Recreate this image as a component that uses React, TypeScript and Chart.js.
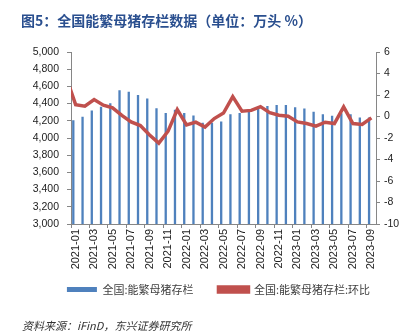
import React, { useEffect, useRef } from 'react';
import { Chart, registerables } from 'chart.js';

Chart.register(...registerables);

const categories = [
  '2021-01', '2021-02', '2021-03', '2021-04', '2021-05', '2021-06', '2021-07', '2021-08', '2021-09', '2021-10', '2021-11', '2021-12',
  '2022-01', '2022-02', '2022-03', '2022-04', '2022-05', '2022-06', '2022-07', '2022-08', '2022-09', '2022-10', '2022-11', '2022-12',
  '2023-01', '2023-02', '2023-03', '2023-04', '2023-05', '2023-06', '2023-07', '2023-08', '2023-09',
];

// 全国:能繁母猪存栏 (万头)
const sowStock = [
  4205, 4246, 4319, 4362, 4404, 4554, 4538, 4500, 4458, 4346, 4292, 4329,
  4290, 4262, 4178, 4177, 4192, 4277, 4292, 4315, 4350, 4373, 4385, 4385,
  4358, 4342, 4304, 4277, 4258, 4288, 4277, 4238, 4238,
];

// 全国:能繁母猪存栏:环比 (%)
const sowStockMoM = [
  1.1, 0.96, 1.58, 1.05, 0.8, 0.1, -0.5, -0.84, -1.72, -2.48, -1.37, 0.65,
  -0.78, -0.52, -0.98, -0.19, 0.32, 1.85, 0.49, 0.57, 0.92, 0.36, 0.12, 0.03,
  -0.5, -0.65, -0.9, -0.53, -0.65, 0.9, -0.65, -0.74, -0.13,
];
// previous month (2020-12), only a sliver of its segment shows at the left edge
const sowStockMoMPrev = 3.6;

const leftTicks = { min: 3000, max: 5000, step: 200 };
const rightTicks = { min: -10, max: 6, step: 2 };

const seriesNames = ['全国:能繁母猪存栏', '全国:能繁母猪存栏:环比'];
const titleText = '图5：全国能繁母猪存栏数据（单位：万头 %）';
const sourceText = '资料来源：iFinD，东兴证券研究所';

const BAR_COLOR = '#4F81BD';
const LINE_COLOR = '#C0504D';
const AXIS_COLOR = '#868686';
const TICK_FONT = "'Liberation Sans', Arial, sans-serif";
const CJK_FONT = "'Noto Sans CJK SC', 'Noto Sans', sans-serif";

export default function App() {
  const canvasRef = useRef<HTMLCanvasElement | null>(null);

  useEffect(() => {
    document.body.style.margin = '0';
    const canvas = canvasRef.current;
    if (!canvas) return;

    const lineData = [{ x: -1, y: sowStockMoMPrev }].concat(
      sowStockMoM.map((v, i) => ({ x: i, y: v }))
    );

    const defaultLabels = Chart.defaults.plugins.legend.labels.generateLabels;

    const chart = new Chart(canvas, {
      data: {
        labels: categories,
        datasets: [
          {
            type: 'bar',
            label: seriesNames[0],
            data: sowStock,
            backgroundColor: BAR_COLOR,
            borderWidth: 0,
            barPercentage: 0.5,
            categoryPercentage: 1,
            xAxisID: 'x',
            yAxisID: 'y',
            order: 1,
          },
          {
            type: 'line',
            label: seriesNames[1],
            data: lineData as any,
            borderColor: LINE_COLOR,
            backgroundColor: LINE_COLOR,
            borderWidth: 3.5,
            pointRadius: 0,
            tension: 0,
            xAxisID: 'x2',
            yAxisID: 'y1',
            order: 0,
            clip: 0,
          } as any,
        ],
      },
      options: {
        responsive: false,
        animation: false,
        devicePixelRatio: 1,
        layout: { padding: { left: 28, right: 0, top: 52, bottom: 29 } },
        plugins: {
          tooltip: { enabled: false },
          title: { display: false },
          legend: {
            display: true,
            position: 'bottom',
            labels: {
              boxWidth: 30,
              boxHeight: 5,
              padding: 14,
              color: '#404040',
              font: { family: CJK_FONT, size: 11 },
              sort: (a: any, b: any) => a.datasetIndex - b.datasetIndex,
              generateLabels: (c: any) => {
                const items = defaultLabels(c);
                // widen the gap between the two legend entries with an ideographic space
                items.forEach((it: any) => {
                  if (it.datasetIndex === 0) it.text = it.text + '\u3000';
                });
                return items;
              },
            },
          },
        },
        scales: {
          x: {
            type: 'category',
            offset: true,
            afterFit: (scale: any) => {
              scale.height = 46;
            },
            border: { display: true, color: AXIS_COLOR },
            grid: {
              display: true,
              drawOnChartArea: false,
              drawTicks: true,
              tickLength: 4,
              offset: true,
              color: (ctx: any) => (ctx.index % 2 === 0 ? AXIS_COLOR : 'rgba(0,0,0,0)'),
            },
            ticks: {
              autoSkip: false,
              minRotation: 90,
              maxRotation: 90,
              padding: 1,
              color: '#222',
              font: { family: TICK_FONT, size: 11 },
              callback: (_v: any, i: number) => (i % 2 === 0 ? categories[i] : ''),
            },
          },
          x2: {
            type: 'linear',
            display: false,
            min: -0.5,
            max: categories.length - 0.5,
          },
          y: {
            type: 'linear',
            position: 'left',
            min: leftTicks.min,
            max: leftTicks.max,
            afterFit: (scale: any) => {
              scale.width = 43;
            },
            border: { display: true, color: AXIS_COLOR },
            grid: { display: true, drawOnChartArea: false, drawTicks: true, tickLength: 4, color: AXIS_COLOR },
            ticks: {
              stepSize: leftTicks.step,
              padding: 8,
              color: '#222',
              font: { family: TICK_FONT, size: 10.5 },
              callback: (v: any) => Number(v).toLocaleString('en-US'),
            },
          },
          y1: {
            type: 'linear',
            position: 'right',
            min: rightTicks.min,
            max: rightTicks.max,
            afterFit: (scale: any) => {
              scale.width = 33;
            },
            border: { display: true, color: AXIS_COLOR },
            grid: { display: true, drawOnChartArea: false, drawTicks: true, tickLength: 4, color: AXIS_COLOR },
            ticks: {
              stepSize: rightTicks.step,
              padding: 4,
              color: '#222',
              font: { family: TICK_FONT, size: 10.5 },
            },
          },
        },
      } as any,
    });

    return () => {
      chart.destroy();
    };
  }, []);

  return (
    <div style={{ position: 'relative', width: 409, height: 334, overflow: 'hidden', background: '#fff' }}>
      <canvas ref={canvasRef} width={409} height={334} style={{ position: 'absolute', left: 0, top: 0, display: 'block' }} />
      <div
        style={{
          position: 'absolute',
          left: 21,
          top: 12,
          fontFamily: CJK_FONT,
          fontWeight: 'bold',
          fontSize: 14,
          lineHeight: '17px',
          color: '#2A4F8F',
          whiteSpace: 'nowrap',
        }}
      >
        {titleText}
      </div>
      <div
        style={{
          position: 'absolute',
          left: 22,
          top: 318,
          fontFamily: CJK_FONT,
          fontStyle: 'italic',
          fontSize: 11,
          lineHeight: '14px',
          color: '#333',
          whiteSpace: 'nowrap',
        }}
      >
        {sourceText}
      </div>
    </div>
  );
}
